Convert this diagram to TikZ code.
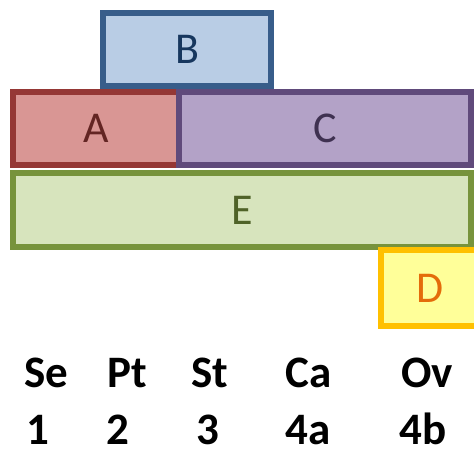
\documentclass[tikz,border=0pt]{standalone}
\usepackage{fontspec}
\setmainfont{Carlito}
\definecolor{bfill}{HTML}{B9CDE5}\definecolor{bline}{HTML}{385D8A}\definecolor{btext}{HTML}{17375E}
\definecolor{afill}{HTML}{D99694}\definecolor{aline}{HTML}{953735}\definecolor{atext}{HTML}{632523}
\definecolor{cfill}{HTML}{B3A2C7}\definecolor{cline}{HTML}{604A7B}\definecolor{ctext}{HTML}{3F3151}
\definecolor{efill}{HTML}{D7E4BD}\definecolor{eline}{HTML}{77933C}\definecolor{etext}{HTML}{4F6228}
\definecolor{dfill}{HTML}{FFFF99}\definecolor{dline}{HTML}{FFC000}\definecolor{dtext}{HTML}{E46C0A}
\begin{document}
\begin{tikzpicture}[x=1pt,y=-1pt,
  blockbox/.style={draw, line width=5.5pt, inner sep=0pt, outer sep=0pt,
    font=\fontsize{44}{44}\selectfont},
  stagelbl/.style={anchor=base, inner sep=0pt, font=\fontsize{45}{45}\selectfont\bfseries}]
\useasboundingbox (0,0) rectangle (474,450);
\begin{scope}
\clip (0,0) rectangle (474,450);
\node[blockbox, fill=bfill, draw=bline, text=btext, minimum width=168pt, minimum height=73pt] (B) at (187,49.5) {B};
\node[blockbox, fill=afill, draw=aline, text=atext, minimum width=166pt, minimum height=73pt] (A) at (96,128.5) {A};
\node[blockbox, fill=cfill, draw=cline, text=ctext, minimum width=292pt, minimum height=73pt] (C) at (325,128.5) {C};
\node[blockbox, fill=efill, draw=eline, text=etext, minimum width=458pt, minimum height=74pt] (E) at (242,210) {E};
\node[blockbox, fill=dfill, draw=dline, text=dtext, minimum width=98pt, minimum height=76pt] (D) at (430,288) {D};
\end{scope}
\node[stagelbl] (se) at (46.5,387) {Se};
\node[stagelbl] (pt) at (127,387) {Pt};
\node[stagelbl] (st) at (210,387) {St};
\node[stagelbl] (ca) at (308.5,387) {Ca};
\node[stagelbl] (ov) at (427,387) {Ov};
\node[stagelbl] (s1) at (38,444) {1};
\node[stagelbl] (s2) at (118,444) {2};
\node[stagelbl] (s3) at (208,444) {3};
\node[stagelbl] (s4a) at (308,444) {4a};
\node[stagelbl] (s4b) at (423,444) {4b};
\end{tikzpicture}
\end{document}
